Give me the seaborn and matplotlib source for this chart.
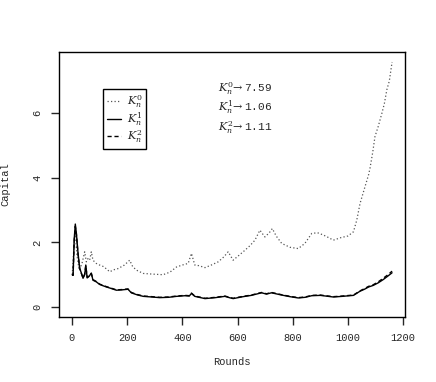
import matplotlib
matplotlib.use("Agg")
import matplotlib.pyplot as plt
import seaborn as sns
import pandas as pd

# capital paths
rounds_k0 = [1, 8, 12, 18, 25, 35, 46, 52, 58, 64, 70, 76, 88, 100, 115, 137, 150, 167, 190, 209,
             220, 234, 258, 290, 330, 355, 379, 400, 421, 433, 445, 460, 482, 505, 530, 550, 566, 584,
             605, 627, 645, 663, 681, 699, 715, 726, 740, 760, 790, 820, 844, 869, 890, 911, 930, 947,
             975, 1000, 1020, 1032, 1044, 1062, 1075, 1080, 1090, 1098, 1110, 1123, 1132, 1141, 1150, 1160]
k0 = [1.0, 2.0, 2.3, 1.6, 1.2, 1.3, 1.71, 1.4, 1.5, 1.45, 1.71, 1.45, 1.35, 1.3, 1.25, 1.09, 1.15, 1.19, 1.3, 1.45,
      1.25, 1.14, 1.04, 1.02, 1.0, 1.08, 1.24, 1.3, 1.35, 1.66, 1.3, 1.28, 1.22, 1.3, 1.40, 1.55, 1.71, 1.45,
      1.6, 1.76, 1.9, 2.07, 2.38, 2.17, 2.3, 2.43, 2.2, 1.97, 1.85, 1.81, 1.97, 2.28, 2.3, 2.23, 2.15, 2.07,
      2.15, 2.2, 2.33, 2.69, 3.21, 3.73, 4.1, 4.3, 4.8, 5.28, 5.6, 6.0, 6.3, 6.73, 7.0, 7.59]

rounds_k1 = [1, 4, 8, 12, 16, 22, 28, 34, 40, 46, 50, 55, 62, 70, 76, 88, 100, 112, 125, 140, 161, 180,
             203, 215, 235, 258, 290, 318, 350, 379, 410, 425, 433, 445, 482, 520, 554, 570, 584, 620,
             650, 687, 705, 723, 760, 790, 820, 845, 869, 900, 947, 980, 1020, 1044, 1060, 1075, 1092,
             1110, 1128, 1145, 1160]
k1 = [1.0, 0.98, 2.1, 2.57, 2.28, 1.66, 1.2, 1.05, 0.89, 1.0, 1.3, 0.9, 0.95, 1.05, 0.83, 0.78, 0.70, 0.66,
      0.62, 0.58, 0.52, 0.53, 0.55, 0.44, 0.38, 0.33, 0.31, 0.29, 0.30, 0.33, 0.35, 0.34, 0.42, 0.33, 0.26,
      0.29, 0.33, 0.29, 0.26, 0.32, 0.36, 0.44, 0.40, 0.44, 0.37, 0.32, 0.28, 0.30, 0.35, 0.36, 0.31, 0.33,
      0.36, 0.49, 0.55, 0.62, 0.67, 0.75, 0.85, 0.96, 1.06]
k2 = [1.0, 0.98, 2.05, 2.5, 2.25, 1.62, 1.18, 1.04, 0.9, 1.02, 1.28, 0.92, 0.96, 1.04, 0.85, 0.79, 0.71, 0.67,
      0.63, 0.59, 0.53, 0.54, 0.56, 0.45, 0.39, 0.34, 0.32, 0.30, 0.31, 0.34, 0.36, 0.35, 0.43, 0.34, 0.27,
      0.30, 0.34, 0.30, 0.27, 0.33, 0.37, 0.45, 0.41, 0.45, 0.38, 0.33, 0.29, 0.31, 0.36, 0.37, 0.32, 0.34,
      0.37, 0.50, 0.57, 0.64, 0.69, 0.78, 0.89, 1.00, 1.11]

final_labels = ["$K_n^0\\!\\rightarrow$7.59", "$K_n^1\\!\\rightarrow$1.06", "$K_n^2\\!\\rightarrow$1.11"]

sns.set_style("ticks")
plt.rcParams["font.family"] = ["Liberation Mono", "DejaVu Sans"]
plt.rcParams["mathtext.fontset"] = "dejavuserif"

fig = plt.figure(figsize=(4.36, 3.82), dpi=100)
ax = fig.add_axes([0.136, 0.171, 0.793, 0.692])

sns.lineplot(x=rounds_k0, y=k0, ax=ax, color="#555555", linestyle=(0, (1, 1.8)), linewidth=0.9,
             label="$K_n^0$")
sns.lineplot(x=rounds_k1, y=k1, ax=ax, color="black", linewidth=1.0, label="$K_n^1$")
sns.lineplot(x=rounds_k1, y=k2, ax=ax, color="black", linestyle=(0, (3, 2)), linewidth=1.0,
             label="$K_n^2$")

ax.set_xlim(-46, 1207)
ax.set_ylim(-0.30, 7.89)
ax.set_xticks([0, 200, 400, 600, 800, 1000, 1200])
ax.set_yticks([0, 2, 4, 6])
for s in ax.spines.values():
    s.set_visible(True)
    s.set_linewidth(1.0)
    s.set_color("black")
ax.tick_params(direction="out", length=6, width=1, labelsize=7.5, pad=6)
for lab in ax.get_yticklabels():
    lab.set_rotation(90)
    lab.set_va("center")

ax.set_xlabel("Rounds", fontsize=7.5, labelpad=10)
ax.set_ylabel("Capital", fontsize=7.5, labelpad=16)

leg = ax.legend(loc="upper left", bbox_to_anchor=(0.126, 0.861), fontsize=8, handlelength=1.3,
                handletextpad=0.5, labelspacing=0.05, borderpad=0.35, borderaxespad=0,
                fancybox=False, framealpha=1, edgecolor="black")
leg.get_frame().set_linewidth(1.0)

for lab, yv in zip(final_labels, [6.78, 6.20, 5.56]):
    ax.text(529, yv, lab, fontsize=8, va="center", ha="left")

fig.savefig("out.png", dpi=100)
